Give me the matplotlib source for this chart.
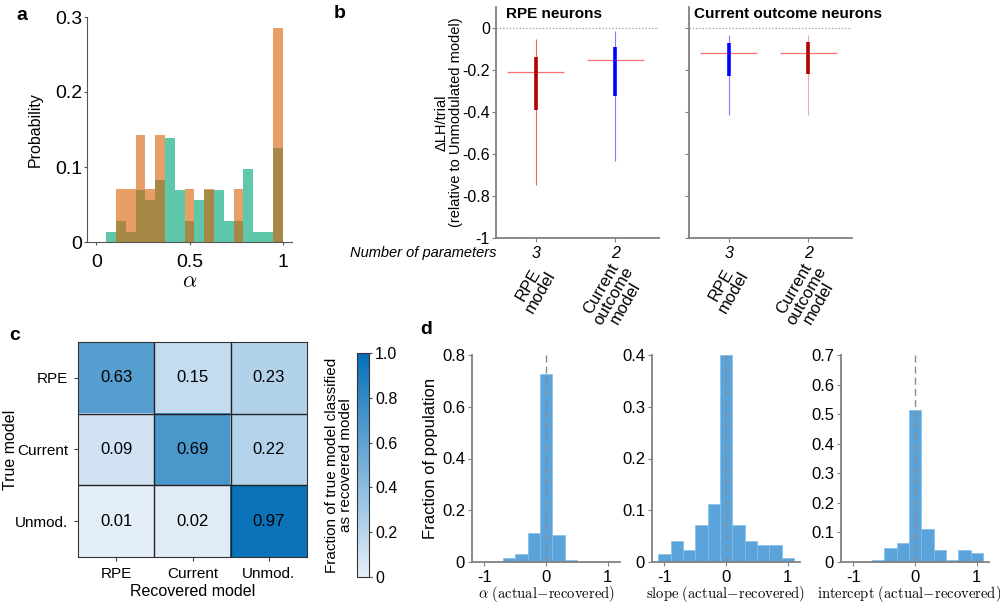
import matplotlib
matplotlib.use("Agg")
import matplotlib.pyplot as plt
import numpy as np
from matplotlib.colors import LinearSegmentedColormap

plt.rcParams['font.family'] = ['Liberation Sans', 'DejaVu Sans']
plt.rcParams['mathtext.fontset'] = 'cm'
plt.rcParams['axes.unicode_minus'] = False
plt.rcParams['font.size'] = 11

# ---- panel a: distribution of alpha (19 bins over 0..1)
alpha_edges = np.linspace(0, 1, 20)
alpha_green = [0, 0.014, 0.028, 0.014, 0.069, 0.056, 0.083, 0.139, 0.069, 0.028,
               0.056, 0.069, 0.069, 0.028, 0.028, 0.097, 0.014, 0.014, 0.125]
alpha_orange = [0, 0, 0.071, 0.071, 0.143, 0.071, 0.143, 0, 0, 0.071,
                0, 0.071, 0, 0, 0.071, 0, 0, 0, 0.286]

# ---- panel b: delta LH/trial box summaries
b_models = ['RPE\nmodel', 'Current\noutcome\nmodel']
b_nparams = ['3', '2']
rpe_whislo = [-0.747, -0.632]
rpe_q1 = [-0.392, -0.323]
rpe_med = [-0.21, -0.154]
rpe_q3 = [-0.139, -0.091]
rpe_whishi = [-0.053, -0.016]
cur_whislo = [-0.416, -0.416]
cur_q1 = [-0.227, -0.219]
cur_med = [-0.12, -0.12]
cur_q3 = [-0.07, -0.065]
cur_whishi = [-0.033, -0.033]

# ---- panel c: confusion matrix
conf_labels = ['RPE', 'Current', 'Unmod.']
conf = [[0.63, 0.15, 0.23],
        [0.09, 0.69, 0.22],
        [0.01, 0.02, 0.97]]

# ---- panel d: parameter recovery errors (bins of 0.2 from -1.1 to 1.1)
err_edges = np.linspace(-1.1, 1.1, 12)
alpha_err = [0, 0, 0.016, 0.031, 0.111, 0.728, 0.103, 0.008, 0, 0, 0]
slope_err = [0.015, 0.040, 0.024, 0.072, 0.112, 0.40, 0.072, 0.040, 0.032, 0.032, 0.008]
intercept_err = [0, 0, 0.007, 0.048, 0.065, 0.514, 0.112, 0.041, 0.007, 0.041, 0.032]

fig = plt.figure(figsize=(10, 6.06), dpi=100)


def px_axes(l, t, r, b):
    return fig.add_axes([l / 1000, 1 - b / 606, (r - l) / 1000, (b - t) / 606])


GRAY = '#808080'

# ================= a
ax = px_axes(87, 17, 292, 242)
w = np.diff(alpha_edges)
ax.bar(alpha_edges[:-1], alpha_green, width=w, align='edge', color='#14AD82', alpha=0.68, lw=0)
ax.bar(alpha_edges[:-1], alpha_orange, width=w, align='edge', color='#D95F02', alpha=0.6, lw=0)
ax.set_xlim(-0.05, 1.05)
ax.set_ylim(0, 0.3)
ax.set_xticks([0, 0.5, 1])
ax.set_xticklabels(['0', '0.5', '1'])
ax.set_yticks([0, 0.1, 0.2, 0.3])
ax.set_yticklabels(['0', '0.1', '0.2', '0.3'])
for s in ['top', 'right']:
    ax.spines[s].set_visible(False)
for s in ['left', 'bottom']:
    ax.spines[s].set_color('#555555')
ax.tick_params(length=2.5, color='#555555', labelsize=14)
ax.tick_params(axis='x', pad=6)
ax.tick_params(axis='y', pad=1)
ax.set_ylabel('Probability', fontsize=11.5)
ax.yaxis.set_label_coords(-0.215, 0.5)
ax.set_xlabel(r'$\alpha$', fontsize=16, labelpad=0)
fig.text(0.022, 1 - 15 / 606, 'a', fontsize=14, fontweight='bold', ha='center', va='center')

# ================= b
panels = [
    (px_axes(496, 7, 659, 238), 'RPE neurons', rpe_whislo, rpe_q1, rpe_med, rpe_q3, rpe_whishi,
     ['#B00000', '#0000FF'], ['#E86A6A', '#7F7FFF']),
    (px_axes(689, 7, 852, 238), 'Current outcome neurons', cur_whislo, cur_q1, cur_med, cur_q3, cur_whishi,
     ['#0000FF', '#B00000'], ['#7F7FFF', '#EBA8A8']),
]
for i, (ax, title, lo, q1, med, q3, hi, box_c, wh_c) in enumerate(panels):
    x = np.arange(1, 3)
    ax.axhline(0, color='#999999', ls=':', lw=0.9)
    ax.vlines(x, lo, hi, colors=wh_c, lw=0.8)
    ax.hlines(med, x - 0.36, x + 0.36, colors='#FF7070', lw=0.9)
    ax.vlines(x, q1, q3, colors=box_c, lw=2.6)
    ax.set_xlim(0.5, 2.55)
    ax.set_ylim(-1, 0.1)
    ax.set_yticks([-1, -0.8, -0.6, -0.4, -0.2, 0])
    if i == 0:
        ax.set_yticklabels(['-1', '-0.8', '-0.6', '-0.4', '-0.2', '0'])
        ax.set_ylabel('\u0394LH/trial\n(relative to Unmodulated model)', linespacing=1.0, fontsize=10.5)
        ax.yaxis.set_label_coords(-0.205, 0.5)
    else:
        ax.set_yticklabels([])
    ax.set_xticks(x)
    ax.set_xticklabels(b_nparams, fontstyle='italic')
    for s in ['top', 'right']:
        ax.spines[s].set_visible(False)
    for s in ['left', 'bottom']:
        ax.spines[s].set_color(GRAY)
        ax.spines[s].set_linewidth(1.3)
    ax.tick_params(length=3, color=GRAY, labelsize=11.5)
    ax.tick_params(axis='y', pad=1.5)
    ax.tick_params(axis='x', pad=2.5)
    ax.text(0.06 if i == 0 else 0.03, 0.97, title, transform=ax.transAxes,
            fontweight='bold', ha='left', va='center')
    for xi, lab in zip(x, b_models):
        dy = -50 if lab.startswith('RPE') else -58
        dx = -1 if lab.startswith('RPE') else -2
        ax.annotate(lab, xy=(xi, -1), xycoords='data', xytext=(dx, dy),
                    textcoords='offset pixels', rotation=60, ha='center', va='center',
                    multialignment='center', linespacing=0.92, fontsize=12,
                    annotation_clip=False)
fig.text(0.497, 1 - 253 / 606, 'Number of parameters', fontstyle='italic', fontsize=10.5,
         ha='right', va='center')
fig.text(0.340, 1 - 14 / 606, 'b', fontsize=14, fontweight='bold', ha='center', va='center')

# ================= c
ax = px_axes(78, 342, 307, 557)
cmap = LinearSegmentedColormap.from_list('blu', ['#E6EFF9', '#0570B9'])
im = ax.imshow(conf, cmap=cmap, vmin=0, vmax=1, aspect='auto')
for r in range(3):
    for c in range(3):
        ax.text(c, r, f'{conf[r][c]:.2f}', ha='center', va='center', fontsize=12)
ax.set_xticks(range(3))
ax.set_xticklabels(conf_labels)
ax.set_yticks(range(3))
ax.set_yticklabels(conf_labels)
ax.set_xticks([0.5, 1.5], minor=True)
ax.set_yticks([0.5, 1.5], minor=True)
ax.grid(which='minor', color='#222222', lw=1)
ax.tick_params(which='minor', length=0)
ax.tick_params(length=3, color='#444444', labelsize=11, pad=4)
for s in ax.spines.values():
    s.set_color('#333333')
ax.set_xlabel('Recovered model', fontsize=11.5, labelpad=2)
ax.set_ylabel('True model', fontsize=11.5)
ax.yaxis.set_label_coords(-0.263, 0.5)
cax = px_axes(357, 353, 369, 577)
cb = fig.colorbar(im, cax=cax)
cb.set_ticks([0, 0.2, 0.4, 0.6, 0.8, 1.0])
cb.set_ticklabels(['0', '0.2', '0.4', '0.6', '0.8', '1.0'])
cb.outline.set_edgecolor('#333333')
cax.tick_params(length=2.5, color='#444444', labelsize=11.5, pad=2)
cax.yaxis.set_label_position('left')
cb.set_label('Fraction of true model classified\nas recovered model', linespacing=1.0,
             fontsize=11, labelpad=3)
fig.text(0.015, 1 - 335 / 606, 'c', fontsize=14, fontweight='bold', ha='center', va='center')

# ================= d
d_series = [
    (472, alpha_err, 0.8, [0, 0.2, 0.4, 0.6, 0.8], ['0', '0.2', '0.4', '0.6', '0.8'],
     r'$\alpha\ (\mathrm{actual}\!-\!\mathrm{recovered})$', 0.5),
    (652, slope_err, 0.4, [0, 0.1, 0.2, 0.3, 0.4], ['0', '0.1', '0.2', '0.3', '0.4'],
     r'$\mathrm{slope}\ (\mathrm{actual}\!-\!\mathrm{recovered})$', 0.5),
    (841, intercept_err, 0.7, [0, 0.1, 0.2, 0.3, 0.4, 0.5, 0.6, 0.7],
     ['0', '0.1', '0.2', '0.3', '0.4', '0.5', '0.6', '0.7'],
     r'$\mathrm{intercept}\ (\mathrm{actual}\!-\!\mathrm{recovered})$', 0.46),
]
for j, (left, vals, top, yt, ytl, xl, xl_pos) in enumerate(d_series):
    ax = px_axes(left, 355, left + 148, 562)
    ax.bar(err_edges[:-1], vals, width=np.diff(err_edges), align='edge',
           color='#5BA4DB', edgecolor='#86BDE6', lw=0.5)
    ax.axvline(0, color='#8a8a8a', ls=(0, (5, 3)), lw=1)
    ax.set_xlim(-1.2, 1.2)
    ax.set_ylim(0, top)
    ax.set_yticks(yt)
    ax.set_yticklabels(ytl)
    ax.set_xticks([-1, 0, 1])
    ax.set_xticklabels(['-1', '0', '1'])
    for s in ['top', 'right']:
        ax.spines[s].set_visible(False)
    for s in ['left', 'bottom']:
        ax.spines[s].set_color(GRAY)
        ax.spines[s].set_linewidth(1.3)
    ax.tick_params(length=3, color=GRAY, labelsize=12)
    ax.tick_params(axis='y', pad=2)
    ax.tick_params(axis='x', pad=3)
    ax.set_xlabel(xl, fontsize=10.5, labelpad=-1, x=xl_pos)
    if j == 0:
        ax.set_ylabel('Fraction of population', fontsize=12)
        ax.yaxis.set_label_coords(-0.23, 0.5)
fig.text(0.426, 1 - 330 / 606, 'd', fontsize=14, fontweight='bold', ha='center', va='center')

fig.savefig('out.png', dpi=100)
